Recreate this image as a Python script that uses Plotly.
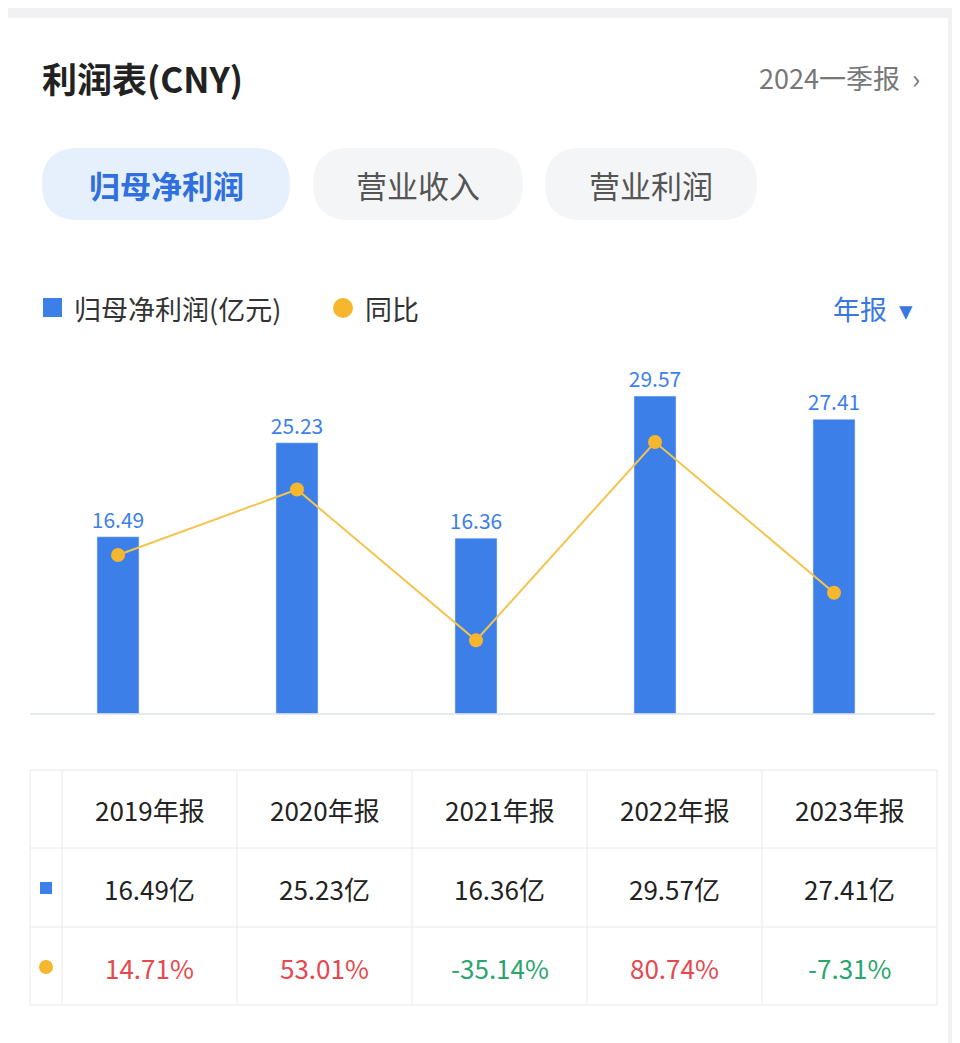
import plotly.graph_objects as go

years = ["2019年报", "2020年报", "2021年报", "2022年报", "2023年报"]
profit = [16.49, 25.23, 16.36, 29.57, 27.41]
yoy = [14.71, 53.01, -35.14, 80.74, -7.31]

W, H = 960, 1043
OFF = 8  # page body margin
def px(x): return (x - OFF) / W
def py(y): return 1 - (y - OFF) / H
F = "Noto Sans CJK SC"
BLUE = "#3d7fe8"; ORANGE = "#f6b62e"; RED = "#e5484d"; GREEN = "#2aa56b"

fig = go.Figure()
fig.add_bar(x=years, y=profit, marker_color=BLUE, width=0.235,
            text=[f"{v:.2f}" for v in profit], textposition="outside",
            textfont=dict(color="#3d7fe8", size=21, family=F), cliponaxis=False,
            constraintext="none")
fig.add_scatter(x=years, y=yoy, yaxis="y2", mode="lines+markers",
                line=dict(color="#f3c44f", width=2),
                marker=dict(color=ORANGE, size=14), cliponaxis=False)

shapes = [
    dict(type="rect", xref="paper", yref="paper", x0=0, x1=px(948), y0=0, y1=py(18),
         fillcolor="white", line_width=0, layer="below"),
    dict(type="line", xref="paper", yref="paper", x0=px(30), x1=px(935), y0=py(714), y1=py(714),
         line=dict(color="#dde3ea", width=1.5)),
]
ann = []
def text(x, y, s, size, color, anchor="left", bold=False):
    ann.append(dict(x=px(x), y=py(y), xref="paper", yref="paper", text=f"<b>{s}</b>" if bold else s,
                    showarrow=False, xanchor=anchor, yanchor="middle",
                    font=dict(size=size, color=color, family=F)))

text(40, 77, "利润表(CNY)", 35, "#222", bold=True)
text(922, 77, "2024一季报  ›", 27, "#777", anchor="right")
pills = [(42, 290, "归母净利润", "#e6f0fd", "#2f6fde", True),
         (313, 523, "营业收入", "#f4f5f7", "#555", False),
         (545, 757, "营业利润", "#f4f5f7", "#555", False)]
for x0, x1, s, bg, fc, b in pills:
    shapes.append(dict(type="path", xref="paper", yref="paper",
        path=f"M {px(x0+36)},{py(148)} L {px(x1-36)},{py(148)} Q {px(x1)},{py(148)} {px(x1)},{py(184)} "
             f"Q {px(x1)},{py(220)} {px(x1-36)},{py(220)} L {px(x0+36)},{py(220)} "
             f"Q {px(x0)},{py(220)} {px(x0)},{py(184)} Q {px(x0)},{py(148)} {px(x0+36)},{py(148)} Z",
        fillcolor=bg, line_width=0, layer="below"))
    text((x0+x1)/2, 184, s, 31, fc, anchor="center", bold=b)

shapes.append(dict(type="rect", xref="paper", yref="paper", x0=px(43), x1=px(62), y0=py(298), y1=py(317),
                   fillcolor=BLUE, line_width=0))
text(72, 308, "归母净利润(亿元)", 27, "#333")
shapes.append(dict(type="circle", xref="paper", yref="paper", x0=px(333), x1=px(353), y0=py(298), y1=py(318),
                   fillcolor=ORANGE, line_width=0))
text(363, 308, "同比", 27, "#333")
text(915, 308, "年报  ▾", 27, "#3a78e0", anchor="right")

cols = [30, 62, 237, 412, 587, 762, 937]
rows = [770, 848, 927, 1005]
g = "#e8eaed"
for x in cols:
    shapes.append(dict(type="line", xref="paper", yref="paper", x0=px(x), x1=px(x), y0=py(770), y1=py(1005),
                       line=dict(color=g, width=1)))
for y in rows:
    shapes.append(dict(type="line", xref="paper", yref="paper", x0=px(30), x1=px(937), y0=py(y), y1=py(y),
                       line=dict(color=g, width=1)))
for i in range(5):
    cx = (cols[i+1] + cols[i+2]) / 2
    text(cx, 809, years[i], 26, "#222", anchor="center")
    text(cx, 888, f"{profit[i]:.2f}亿", 26, "#222", anchor="center")
    text(cx, 967, f"{yoy[i]:.2f}%", 26, RED if yoy[i] >= 0 else GREEN, anchor="center")
shapes.append(dict(type="rect", xref="paper", yref="paper", x0=px(40), x1=px(52), y0=py(882), y1=py(894),
                   fillcolor=BLUE, line_width=0))
shapes.append(dict(type="circle", xref="paper", yref="paper", x0=px(39), x1=px(53), y0=py(960), y1=py(974),
                   fillcolor=ORANGE, line_width=0))

fig.update_layout(
    width=W, height=H, margin=dict(l=0, r=0, t=0, b=0),
    paper_bgcolor="#f1f1f3", plot_bgcolor="rgba(0,0,0,0)", showlegend=False,
    xaxis=dict(domain=[px(28.5), px(923.5)], range=[-0.5, 4.5], visible=False, type="category"),
    yaxis=dict(domain=[py(714), py(340)], range=[0, 34.79], visible=False),
    yaxis2=dict(overlaying="y", range=[-78.2, 140.4], visible=False),
    shapes=shapes, annotations=ann, font=dict(family=F),
)
fig.write_html("out.html")
